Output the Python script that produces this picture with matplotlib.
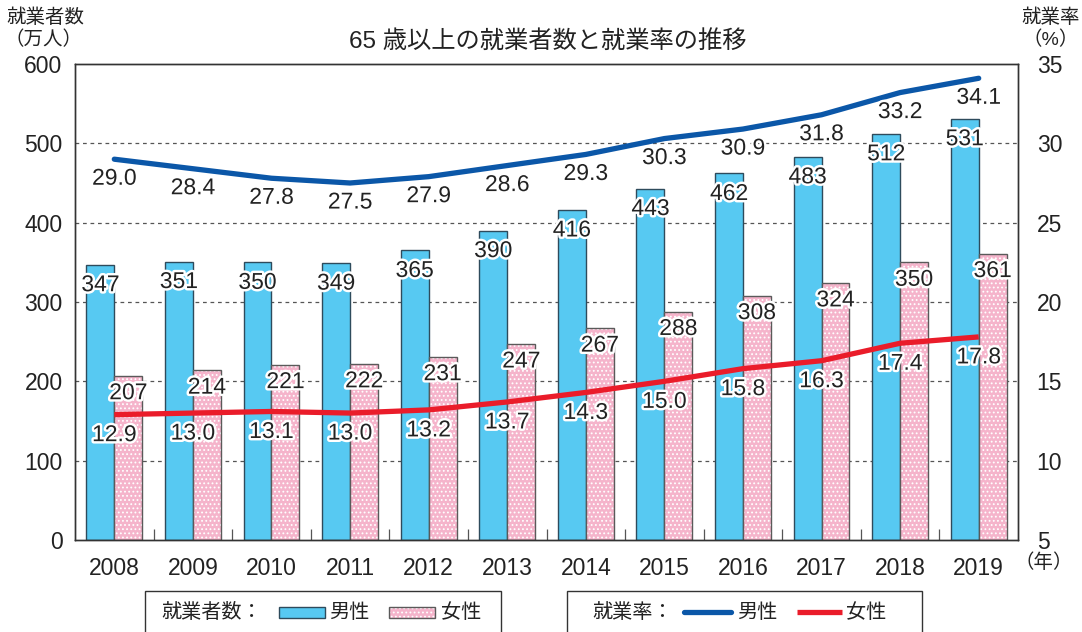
import matplotlib
matplotlib.use('Agg')
import matplotlib.pyplot as plt
import matplotlib.patheffects as pe
from matplotlib.patches import Rectangle
from matplotlib.lines import Line2D
import numpy as np

plt.rcParams['font.family'] = ['Liberation Sans', 'Noto Sans CJK JP']
plt.rcParams['hatch.linewidth'] = 0.8

# データ
years = ['2008', '2009', '2010', '2011', '2012', '2013', '2014', '2015', '2016', '2017', '2018', '2019']
male_workers = [347, 351, 350, 349, 365, 390, 416, 443, 462, 483, 512, 531]
female_workers = [207, 214, 221, 222, 231, 247, 267, 288, 308, 324, 350, 361]
male_rate = [29.0, 28.4, 27.8, 27.5, 27.9, 28.6, 29.3, 30.3, 30.9, 31.8, 33.2, 34.1]
female_rate = [12.9, 13.0, 13.1, 13.0, 13.2, 13.7, 14.3, 15.0, 15.8, 16.3, 17.4, 17.8]

W, H = 1082, 632
male_bar = '#57C9F2'
female_bar = '#F5B4CB'
blue = '#0B57A8'
red = '#EA1C2A'
outline = [pe.withStroke(linewidth=3.5, foreground='white')]

def fx(px):
    return px / W

def fy(py):
    return 1 - py / H

fig = plt.figure(figsize=(W / 100, H / 100), dpi=100)
ax = fig.add_axes([fx(75), fy(540), (1018 - 75) / W, (540 - 64) / H])
ax2 = ax.twinx()

x = np.arange(len(years))
bw = 0.355

# 棒グラフ
ax.bar(x - bw / 2, male_workers, bw, color=male_bar, edgecolor='#2E4B5C', linewidth=1.0, zorder=2)
ax.bar(x + bw / 2, female_workers, bw, color=female_bar, edgecolor='white', hatch='....', linewidth=0, zorder=2)
ax.bar(x + bw / 2, female_workers, bw, fill=False, edgecolor='#5A5A5A', linewidth=1.0, zorder=2)

ax.set_xlim(-0.5, len(years) - 0.5)
ax.set_ylim(0, 600)
ax.set_yticks(range(0, 601, 100))
for v in range(100, 600, 100):
    ax.axhline(v, color='#555555', lw=0.9, ls=(0, (3, 3)), zorder=0)

for i, v in enumerate(male_workers):
    ax.annotate(str(v), (x[i] - bw / 2, v), xytext=(0, -14.4), textcoords='offset points',
                ha='center', va='center', fontsize=16.5, color='#222222', path_effects=outline, zorder=5)
for i, v in enumerate(female_workers):
    ax.annotate(str(v), (x[i] + bw / 2, v), xytext=(0, -12.2), textcoords='offset points',
                ha='center', va='center', fontsize=16.5, color='#222222', path_effects=outline, zorder=5)

# 折れ線（右軸）
ax2.set_ylim(5, 35)
ax2.set_yticks(range(5, 36, 5))
ax2.plot(x, male_rate, color=blue, lw=3.8, solid_capstyle='round', solid_joinstyle='round', zorder=3)
ax2.plot(x, female_rate, color=red, lw=3.8, solid_capstyle='butt', solid_joinstyle='round', zorder=3)
for i, v in enumerate(male_rate):
    ax2.annotate(f'{v:.1f}', (x[i], v), xytext=(0, -13.7), textcoords='offset points',
                 ha='center', va='center', fontsize=16.5, color='#222222', path_effects=outline, zorder=5)
for i, v in enumerate(female_rate):
    ax2.annotate(f'{v:.1f}', (x[i], v), xytext=(0, -14.4), textcoords='offset points',
                 ha='center', va='center', fontsize=16.5, color='#222222', path_effects=outline, zorder=5)

# 軸の体裁
ax.set_xticks(x)
ax.set_xticklabels(years)
ax.set_xticks(x[:-1] + 0.5, minor=True)
ax.tick_params(axis='x', which='major', length=0, pad=12, labelsize=16.5, labelcolor='#222222')
ax.tick_params(axis='x', which='minor', direction='in', length=8, width=0.9, color='#555555')
ax.tick_params(axis='y', length=0, pad=9, labelsize=16.5, labelcolor='#222222')
ax2.tick_params(axis='y', length=0, pad=13.5, labelsize=16.5, labelcolor='#222222')
for a in (ax, ax2):
    for s in a.spines.values():
        s.set_color('#333333')
        s.set_linewidth(1.0)

fig.text(fx(548), fy(42), '65 歳以上の就業者数と就業率の推移', ha='center', va='center', fontsize=17.5, color='#222222')
fig.text(fx(45), fy(18), '就業者数', ha='center', va='center', fontsize=14, color='#222222')
fig.text(fx(43), fy(40), '（万人）', ha='center', va='center', fontsize=14, color='#222222')
fig.text(fx(1051), fy(18), '就業率', ha='center', va='center', fontsize=14, color='#222222')
fig.text(fx(1051), fy(40), '（%）', ha='center', va='center', fontsize=14, color='#222222')
fig.text(fx(1044), fy(563), '（年）', ha='center', va='center', fontsize=14, color='#222222')

# 凡例
ly = 612
fig.add_artist(Rectangle((fx(145), fy(650)), fx(501 - 145), (650 - 591) / H, transform=fig.transFigure,
                         fill=False, edgecolor='#333333', lw=1.0))
fig.add_artist(Rectangle((fx(567), fy(650)), fx(922 - 567), (650 - 591) / H, transform=fig.transFigure,
                         fill=False, edgecolor='#333333', lw=1.0))
fig.text(fx(161), fy(ly), '就業者数：', ha='left', va='center', fontsize=14.5, color='#222222')
fig.add_artist(Rectangle((fx(279), fy(618)), fx(46), 11 / H, transform=fig.transFigure,
                         facecolor=male_bar, edgecolor='#2E4B5C', lw=1.0))
fig.text(fx(329), fy(ly), '男性', ha='left', va='center', fontsize=14.5, color='#222222')
fig.add_artist(Rectangle((fx(389), fy(618)), fx(46), 11 / H, transform=fig.transFigure,
                         facecolor=female_bar, edgecolor='white', hatch='....', lw=0))
fig.add_artist(Rectangle((fx(389), fy(618)), fx(46), 11 / H, transform=fig.transFigure,
                         fill=False, edgecolor='#5A5A5A', lw=1.0))
fig.text(fx(441), fy(ly), '女性', ha='left', va='center', fontsize=14.5, color='#222222')

fig.text(fx(592), fy(ly), '就業率：', ha='left', va='center', fontsize=14.5, color='#222222')
fig.add_artist(Line2D([fx(684), fx(731)], [fy(ly), fy(ly)], transform=fig.transFigure,
                      color=blue, lw=3.8, solid_capstyle='round'))
fig.text(fx(737), fy(ly), '男性', ha='left', va='center', fontsize=14.5, color='#222222')
fig.add_artist(Line2D([fx(797), fx(842)], [fy(ly), fy(ly)], transform=fig.transFigure,
                      color=red, lw=3.8, solid_capstyle='butt'))
fig.text(fx(846), fy(ly), '女性', ha='left', va='center', fontsize=14.5, color='#222222')

plt.savefig('out.png', dpi=100)
plt.close()
